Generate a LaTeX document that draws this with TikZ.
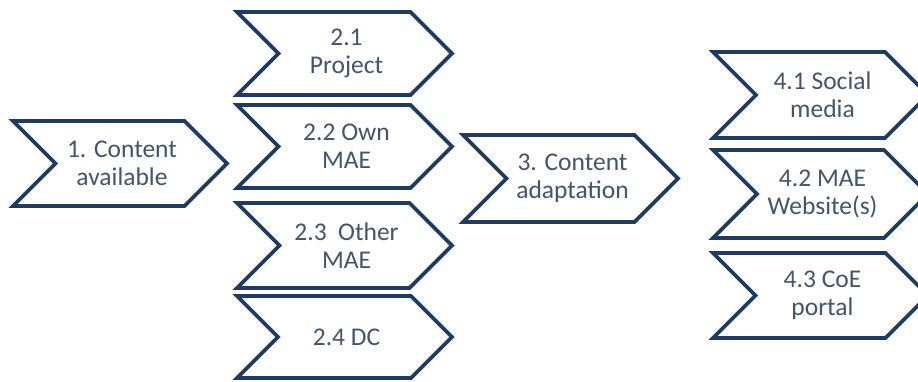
\documentclass[tikz,border=0pt]{standalone}
\usepackage{fontspec}
\setmainfont{Carlito}
\definecolor{chevblue}{HTML}{1F3A63}
\definecolor{chevtext}{HTML}{44546A}
\tikzset{
  chevline/.style={draw=chevblue, line width=3.6pt, line join=miter, fill=white},
  chevlabel/.style={text=chevtext, align=center, font=\fontsize{25.5}{28}\selectfont, inner sep=0pt}
}
% #1 name, #2 left x, #3 top y, #4 tip x, #5 bottom y, #6 text
\newcommand\chevron[6]{%
  \path[chevline] (#2,-#3) -- ({#4-(#5-#3)/2},-#3) -- (#4,{-(#3+#5)/2}) -- ({#4-(#5-#3)/2},-#5)
    -- (#2,-#5) -- ({#2+(#5-#3)/2},{-(#3+#5)/2}) -- cycle;
  \node[chevlabel] (#1) at ({(#2+#4)/2+2},{-(#3+#5)/2}) {#6};
}
\begin{document}
\begin{tikzpicture}[x=1pt,y=1pt]
\useasboundingbox (0,-381) rectangle (918,0);
\begin{scope}
\clip (0,-381) rectangle (918,0);
\chevron{c1}{13}{121}{227}{206}{1. Content\\available}
\chevron{c21}{237}{12}{452}{95}{2.1\\Project}
\chevron{c22}{237}{105}{452}{188}{2.2 Own\\MAE}
\chevron{c23}{237}{203}{452}{288}{2.3\ \ Other\\MAE}
\chevron{c24}{237}{296}{452}{378}{2.4 DC}
\chevron{c3}{463}{135}{678}{222}{3. Content\\adaptation}
\chevron{c41}{713}{52}{928}{138}{4.1 Social\\media}
\chevron{c42}{713}{150}{928}{238}{4.2 MAE\\Website(s)}
\chevron{c43}{713}{253}{928}{338}{4.3 CoE\\portal}
\end{scope}
\end{tikzpicture}
\end{document}
